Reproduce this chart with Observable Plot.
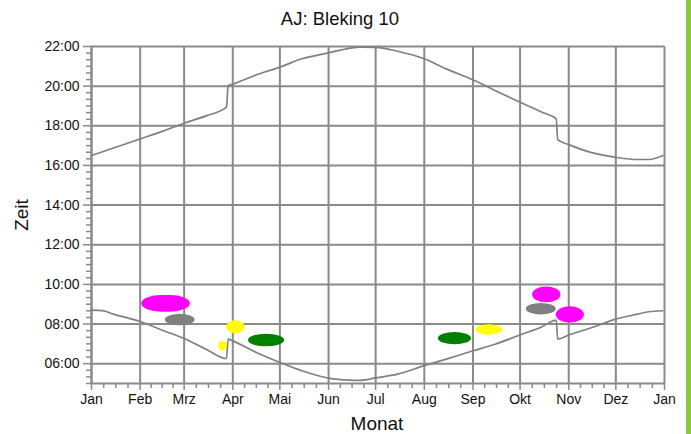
<!DOCTYPE html>
<html>
<head>
<meta charset="utf-8">
<script src="https://cdn.jsdelivr.net/npm/d3@7"></script>
<script src="https://cdn.jsdelivr.net/npm/@observablehq/plot@0.6"></script>
<style>
  html, body { margin: 0; padding: 0; background: #fff; }
  #wrap { position: relative; width: 691px; height: 434px; overflow: hidden; font-family: "Liberation Sans", Arial, sans-serif; color: #111; }
  #chart { position: absolute; left: 0; top: 0; }
  #chart svg g[aria-label$="tick label"], #chart svg g[aria-label$="tick label"] text { font-size: 14px !important; font-family: "Liberation Sans", Arial, sans-serif !important; }
  .lbl { position: absolute; white-space: nowrap; }
  #title { left: 340px; top: 8px; transform: translateX(-50%); font-size: 18.5px; }
  #xlab { left: 377px; top: 413px; transform: translateX(-50%); font-size: 19px; }
  #ylab { left: 22px; top: 215px; transform: translate(-50%, -50%) rotate(-90deg); font-size: 19px; }
  #bar { position: absolute; left: 686px; top: 0; width: 5px; height: 434px; background: #8dc63f; }
</style>
</head>
<body>
<div id="wrap">
  <div id="chart"></div>
  <div class="lbl" id="title">AJ: Bleking 10</div>
  <div class="lbl" id="xlab">Monat</div>
  <div class="lbl" id="ylab">Zeit</div>
  <div id="bar"></div>
</div>
<script>
// ---- data ----
const monthLabels = ["Jan","Feb","Mrz","Apr","Mai","Jun","Jul","Aug","Sep","Okt","Nov","Dez","Jan"];
const yTickValues = [6, 8, 10, 12, 14, 16, 18, 20, 22];

const sunsetDates = ["2010-01-01","2010-01-15","2010-02-01","2010-02-15","2010-03-01","2010-03-15","2010-03-28","2010-03-29",
  "2010-04-01","2010-04-15","2010-05-01","2010-05-15","2010-06-01","2010-06-15","2010-06-21","2010-07-01","2010-07-15",
  "2010-08-01","2010-08-15","2010-09-01","2010-09-15","2010-10-01","2010-10-15","2010-10-24","2010-10-25","2010-11-01",
  "2010-11-15","2010-12-01","2010-12-15","2010-12-22","2010-12-31"];
const sunsetHours = [16.50,16.88,17.34,17.72,18.13,18.50,18.94,20.02,
  20.10,20.54,20.96,21.38,21.68,21.92,21.97,21.96,21.76,
  21.38,20.87,20.32,19.78,19.19,18.68,18.35,17.30,17.05,
  16.66,16.41,16.30,16.30,16.50];

const sunriseDates = ["2010-01-01","2010-01-08","2010-01-15","2010-02-01","2010-02-15","2010-03-01","2010-03-15","2010-03-28","2010-03-29",
  "2010-04-01","2010-04-15","2010-05-01","2010-05-15","2010-06-01","2010-06-15","2010-06-21","2010-07-01","2010-07-15",
  "2010-08-01","2010-08-15","2010-09-01","2010-09-15","2010-10-01","2010-10-15","2010-10-24","2010-10-25","2010-11-01",
  "2010-11-15","2010-12-01","2010-12-15","2010-12-22","2010-12-31"];
const sunriseHours = [8.70,8.68,8.50,8.13,7.69,7.27,6.73,6.26,7.24,
  7.15,6.60,6.06,5.64,5.27,5.17,5.16,5.28,5.47,
  5.90,6.23,6.65,6.98,7.45,7.86,8.20,7.24,7.45,
  7.80,8.25,8.50,8.62,8.67];

const blobColors = ["#ff00ff","#808080","#ffff00","#ffff00","#008000","#008000","#ffff00","#ff00ff","#808080","#ff00ff"];
const blobStart  = ["2010-02-02","2010-02-17","2010-03-28","2010-03-23","2010-04-11","2010-08-10","2010-09-03","2010-10-09","2010-10-05","2010-10-24"];
const blobEnd    = ["2010-03-05","2010-03-08","2010-04-09","2010-03-28T12:00","2010-05-04","2010-08-31","2010-09-20","2010-10-27","2010-10-24","2010-11-11"];
const blobLow    = [8.60,7.91,7.52,6.64,6.85,6.95,7.44,9.07,8.46,8.05];
const blobHigh   = [9.44,8.49,8.16,7.12,7.49,7.57,7.96,9.87,9.04,8.87];

// ---- build tables ----
const parse = s => new Date(s.length > 10 ? s + "Z" : s);
const monthStarts = d3.range(13).map(m => new Date(Date.UTC(2010, m, 1)));
const minorX = [];
for (let m = 0; m < 12; m++) {
  const a = +monthStarts[m], b = +monthStarts[m + 1];
  for (let k = 1; k < 4; k++) minorX.push(new Date(a + (b - a) * k / 4));
}
const minorY = d3.range(15, 67).map(i => i / 3).filter(v => Math.abs(v - Math.round(v)) > 1e-6 || Math.round(v) % 2 === 1);

const sunset = sunsetDates.map((d, i) => ({date: parse(d), h: sunsetHours[i]}));
const sunrise = sunriseDates.map((d, i) => ({date: parse(d), h: sunriseHours[i]}));
const blobs = blobColors.map((c, i) => ({c, x1: parse(blobStart[i]), x2: parse(blobEnd[i]), y1: blobLow[i], y2: blobHigh[i]}));

const gridColor = "#8a8a8a";
const fmtH = h => String(h).padStart(2, "0") + ":00";

const chart = Plot.plot({
  width: 686,
  height: 434,
  marginLeft: 91,
  marginRight: 22,
  marginTop: 46,
  marginBottom: 51,
  x: {type: "utc", domain: [monthStarts[0], monthStarts[12]]},
  y: {domain: [5, 22]},
  style: {fontFamily: "'Liberation Sans', Arial, sans-serif", fontSize: "14px", color: "#111", background: "white", overflow: "visible"},
  marks: [
    Plot.gridX(monthStarts, {stroke: gridColor, strokeWidth: 2, strokeOpacity: 1}),
    Plot.gridY(yTickValues, {stroke: gridColor, strokeWidth: 2, strokeOpacity: 1}),
    Plot.ruleX([monthStarts[0]], {stroke: gridColor, strokeWidth: 2}),
    Plot.ruleY([5], {stroke: gridColor, strokeWidth: 2}),
    Plot.axisX(monthStarts, {tickSize: 7, tickPadding: 4, tickFormat: d => monthLabels[d.getUTCMonth()], stroke: gridColor, strokeWidth: 1.5, fill: "#111", fontSize: 14, label: null}),
    Plot.axisX(minorX, {tickSize: 5, tickFormat: () => "", stroke: gridColor, strokeWidth: 1.5, label: null}),
    Plot.axisY(yTickValues, {tickSize: 8, tickPadding: 4, tickFormat: fmtH, stroke: gridColor, strokeWidth: 1.5, fill: "#111", fontSize: 14, label: null}),
    Plot.axisY(minorY, {tickSize: 5, tickFormat: () => "", stroke: gridColor, strokeWidth: 1.5, label: null}),
    Plot.line(sunset, {x: "date", y: "h", stroke: "#808080", strokeWidth: 1.7, curve: "monotone-x"}),
    Plot.line(sunrise, {x: "date", y: "h", stroke: "#808080", strokeWidth: 1.7, curve: "monotone-x"}),
    Plot.rect(blobs, {x1: "x1", x2: "x2", y1: "y1", y2: "y2", fill: "c", rx: 20, ry: 10})
  ]
});
document.getElementById("chart").appendChild(chart);
</script>
</body>
</html>
